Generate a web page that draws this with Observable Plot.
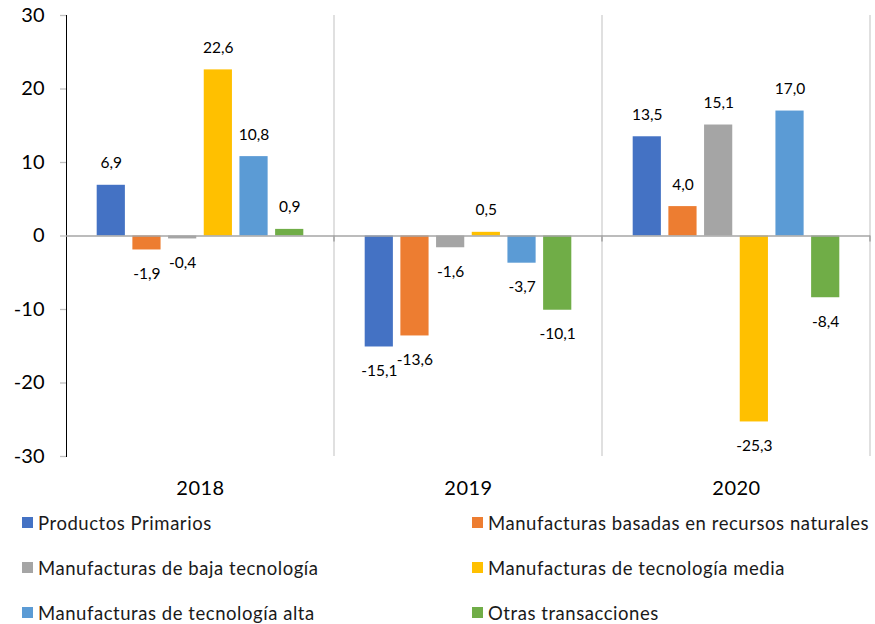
<!DOCTYPE html>
<html>
<head>
<meta charset="utf-8">
<script src="https://cdn.jsdelivr.net/npm/d3@7"></script>
<script src="https://cdn.jsdelivr.net/npm/@observablehq/plot@0.6"></script>
<style>
  html, body { margin: 0; padding: 0; background: #fff; overflow: hidden; }
  body { width: 875px; height: 624px; font-family: Lato, "Open Sans", sans-serif; }
  #chart svg [aria-label^="y-axis"] line,
  #chart svg [aria-label^="y-axis"] path { stroke: #bfbfbf; stroke-width: 1.3; }
  #chart svg [aria-label^="y-axis"] text { fill: #000; font-size: 20px; }
  #chart svg [aria-label^="fx-axis"] text { fill: #000; font-size: 20px; letter-spacing: 0.5px; }
  #legend { display: grid; grid-template-columns: 450px 400px; padding-left: 22px; }
  .item { height: 45px; display: flex; align-items: center; font-size: 18.5px; letter-spacing: 0.55px; color: #1a1a1a; white-space: nowrap; }
  .sw { width: 11px; height: 11px; margin-right: 5px; flex: none; }
</style>
</head>
<body>
<div id="chart"></div>
<div id="legend"></div>
<script>
const years = ["2018", "2019", "2020"];
const series = [
  "Productos Primarios",
  "Manufacturas basadas en recursos naturales",
  "Manufacturas de baja tecnología",
  "Manufacturas de tecnología media",
  "Manufacturas de tecnología alta",
  "Otras transacciones"
];
const colors = ["#4472C4", "#ED7D31", "#A5A5A5", "#FFC000", "#5B9BD5", "#70AD47"];
const values2018 = [6.9, -1.9, -0.4, 22.6, 10.8, 0.9];
const values2019 = [-15.1, -13.6, -1.6, 0.5, -3.7, -10.1];
const values2020 = [13.5, 4.0, 15.1, -25.3, 17.0, -8.4];
const yTicks = [-30, -20, -10, 0, 10, 20, 30];

const valuesByYear = [values2018, values2019, values2020];
const data = years.flatMap((year, i) => series.map((s, j) => ({year, series: s, value: valuesByYear[i][j]})));
const fmt = v => (v < 0 ? "-" : "") + Math.abs(v).toFixed(1).replace(".", ",");

const chart = Plot.plot({
  width: 875,
  height: 500,
  marginTop: 15,
  marginBottom: 44,
  marginLeft: 66,
  marginRight: 5,
  style: {fontFamily: "Lato, 'Open Sans', sans-serif", fontSize: "20px", color: "#000", background: "#fff", overflow: "visible"},
  fx: {domain: years, padding: 0, round: false, label: null, tickSize: 0, tickPadding: 24, axis: "bottom"},
  x: {domain: series, paddingInner: 0.21, paddingOuter: 0.86, round: false, axis: null},
  y: {domain: [-30, 30], ticks: yTicks, tickFormat: d => String(d), tickSize: 6, tickPadding: 16, label: null, line: true},
  color: {domain: series, range: colors},
  marks: [
    Plot.barY(data, {fx: "year", x: "series", y: "value", fill: "series"}),
    Plot.ruleY([0], {stroke: "#a6a6a6", strokeWidth: 1.6}),
    Plot.text(data.filter(d => d.value >= 0), {fx: "year", x: "series", y: "value", text: d => fmt(d.value), dy: -22, fontSize: 15.5, fill: "#000"}),
    Plot.text(data.filter(d => d.value < 0), {fx: "year", x: "series", y: "value", text: d => fmt(d.value), dy: 24, fontSize: 15.5, fill: "#000"})
  ]
});
document.getElementById("chart").appendChild(chart);

// vertical separators between categories, derived from the facet scale
try {
  const fxs = chart.scale("fx");
  const ys = chart.scale("y");
  const yTop = ys.apply(30), yBot = ys.apply(-30), yZero = ys.apply(0);
  const bounds = years.slice(1).map(y => fxs.apply(y));
  bounds.push(fxs.apply(years[years.length - 1]) + fxs.bandwidth);
  const svg = d3.select(chart);
  const g = svg.insert("g", "g");
  g.selectAll("line.grid").data(bounds).join("line")
    .attr("x1", d => d).attr("x2", d => d)
    .attr("y1", yTop).attr("y2", yBot)
    .attr("stroke", "#d9d9d9").attr("stroke-width", 1.6);
  svg.append("g").selectAll("line").data(bounds).join("line")
    .attr("x1", d => d).attr("x2", d => d)
    .attr("y1", yZero).attr("y2", yZero + 6)
    .attr("stroke", "#a6a6a6").attr("stroke-width", 1.6);
} catch (e) { console.error(e); }

const legend = document.getElementById("legend");
series.forEach((s, i) => {
  const item = document.createElement("div");
  item.className = "item";
  const sw = document.createElement("span");
  sw.className = "sw";
  sw.style.background = colors[i];
  item.appendChild(sw);
  item.appendChild(document.createTextNode(s));
  legend.appendChild(item);
});
</script>
</body>
</html>
